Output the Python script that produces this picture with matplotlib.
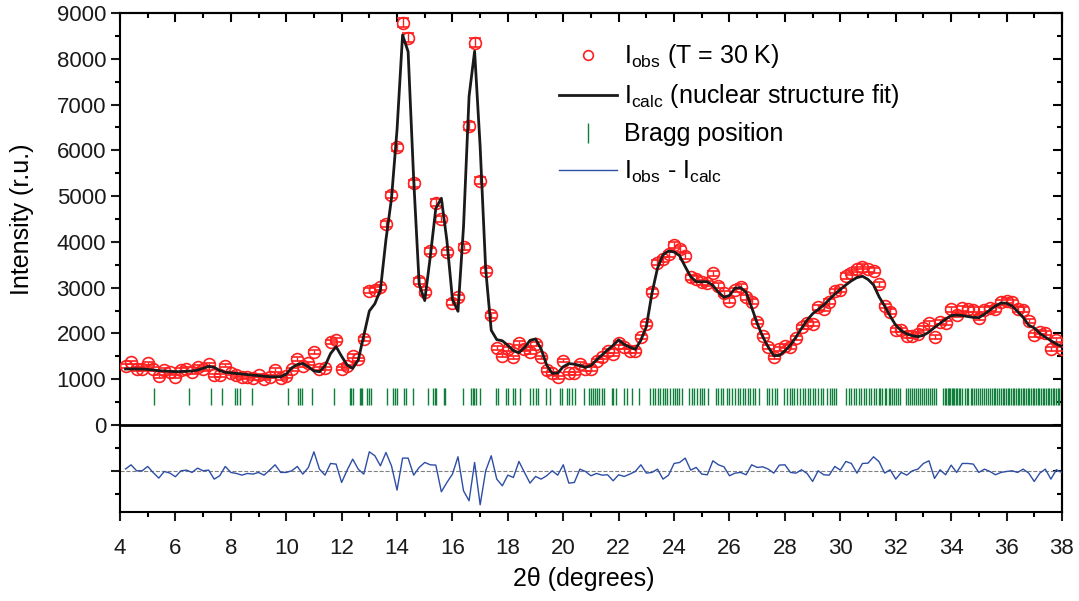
#### Rietveld-type neutron powder pattern: observed, calculated, Bragg ticks, difference
import numpy as np
import matplotlib
matplotlib.use('Agg')
import matplotlib.pyplot as plt
from matplotlib.ticker import MultipleLocator, FuncFormatter, NullFormatter
from matplotlib.lines import Line2D

plt.rcParams['font.family'] = 'Liberation Sans'
plt.rcParams['mathtext.fontset'] = 'custom'
plt.rcParams['mathtext.rm'] = 'Liberation Sans'
plt.rcParams['mathtext.default'] = 'regular'

# 2theta grid of the measurement (0.2 deg steps, 4.2 .. 38.0)
two_theta = np.round(np.arange(4.2, 38.01, 0.2), 1)

i_obs = [1290, 1370, 1223, 1223, 1347, 1223, 1070, 1200, 1150, 1055,
         1200, 1223, 1150, 1275, 1223, 1325, 1092, 1092, 1296, 1128,
         1092, 1040, 1055, 1020, 1092, 1005, 1055, 1200, 1020, 1070,
         1215, 1440, 1296, 1347, 1590, 1230, 1235, 1810, 1860, 1230,
         1280, 1507, 1435, 1875, 2935, 2950, 3008, 4390, 5024, 6066,
         8788, 8460, 5280, 3145, 2900, 3808, 4857, 4493, 3772, 2672,
         2790, 3896, 6531, 8352, 5337, 3371, 2395, 1689, 1514, 1653,
         1478, 1784, 1653, 1588, 1769, 1478, 1201, 1128, 1040, 1405,
         1128, 1128, 1332, 1223, 1223, 1405, 1478, 1616, 1543, 1784,
         1697, 1616, 1624, 1915, 2206, 2912, 3546, 3619, 3728, 3932,
         3838, 3692, 3226, 3190, 3117, 3095, 3313, 3044, 2876, 2716,
         2949, 3022, 2790, 2694, 2243, 1951, 1697, 1478, 1660, 1725,
         1697, 1893, 2148, 2220, 2206, 2570, 2540, 2694, 2927, 2949,
         3255, 3327, 3400, 3460, 3400, 3370, 3073, 2600, 2476, 2075,
         2075, 1944, 1944, 1980, 2126, 2220, 1930, 2257, 2235, 2527,
         2403, 2549, 2527, 2520, 2345, 2520, 2549, 2527, 2680, 2716,
         2680, 2527, 2520, 2272, 1966, 2030, 2000, 1660, 1857, 1660]

i_calc = [1223, 1225, 1225, 1223, 1215, 1200, 1187, 1180, 1172, 1165,
          1168, 1175, 1180, 1200, 1238, 1280, 1260, 1190, 1150, 1140,
          1125, 1114, 1100, 1088, 1080, 1065, 1055, 1052, 1055, 1110,
          1250, 1320, 1345, 1270, 1180, 1165, 1290, 1560, 1711, 1500,
          1310, 1238, 1420, 1950, 2490, 2650, 2950, 4050, 4950, 6450,
          8519, 8155, 5375, 3070, 2718, 3677, 4733, 4952, 4027, 2745,
          2484, 4333, 7180, 8165, 6080, 3400, 2070, 1865, 1840, 1740,
          1624, 1580, 1689, 1850, 1880, 1660, 1310, 1128, 1135, 1274,
          1340, 1330, 1300, 1260, 1300, 1420, 1530, 1640, 1740, 1860,
          1760, 1700, 1653, 1850, 2150, 2876, 3422, 3720, 3800, 3780,
          3700, 3460, 3240, 3130, 3130, 3130, 3050, 2900, 2790, 2830,
          2990, 3000, 2900, 2570, 2220, 1930, 1700, 1514, 1520, 1620,
          1747, 1920, 2110, 2290, 2430, 2520, 2620, 2740, 2860, 2960,
          3060, 3150, 3220, 3250, 3180, 3060, 2800, 2600, 2380, 2180,
          2060, 1990, 1950, 1930, 1960, 2030, 2130, 2220, 2310, 2390,
          2400, 2390, 2370, 2350, 2345, 2420, 2512, 2600, 2665, 2660,
          2600, 2480, 2350, 2180, 2120, 2003, 1920, 1842, 1770, 1711]

i_diff = [40, 130, 0, 0, 95, -40, -160, -15, -50, -130,
          0, 15, -36, 58, 0, 15, -182, -109, 95, -36,
          -58, -95, -58, -73, -36, -95, 15, 131, -36, -36,
          0, 95, -73, 73, 415, 36, -95, 160, 146, -255,
          15, 255, 36, -73, 415, 328, 109, 400, 109, -422,
          277, 277, -95, 73, 182, 131, 124, -459, -255, -73,
          306, -437, -655, 182, -743, 0, 328, -182, -328, -95,
          -146, 204, -36, -269, -124, -182, -109, 0, -95, 131,
          -269, -255, 36, -15, -109, -58, -95, -87, -218, -87,
          -124, -73, -15, 131, -51, -36, 36, -182, -95, 160,
          182, 277, 15, 73, -73, -87, 218, 131, 87, -109,
          -51, -36, -87, 131, 73, 87, 36, -51, 124, 131,
          -36, -51, 22, -58, -233, 0, -87, -95, 95, 15,
          204, 160, -51, 160, 167, 306, 197, -51, 22, -182,
          -36, -95, 0, 36, 160, 218, -167, 22, -87, 124,
          -36, 160, 160, 146, -36, 36, -15, -87, -36, -15,
          0, -36, 36, -51, -233, -51, 36, -182, 22, -36]

bragg = [5.22, 6.49, 7.28, 7.67, 8.15, 8.24, 8.33, 8.78, 10.05, 10.42, 10.48, 10.56,
         10.93, 11.72, 12.29, 12.35, 12.41, 12.66, 12.71, 12.75, 12.90, 13.00, 13.05,
         13.63, 13.85, 13.93, 14.01, 14.24, 14.31, 14.59, 15.12, 15.30, 15.36, 15.41,
         15.69, 15.74, 16.37, 16.67, 16.73, 16.78, 16.84, 17.00, 17.57, 17.64, 17.94,
         18.02, 18.18, 18.26, 18.44, 18.80, 18.90, 19.02, 19.10, 19.38, 19.52, 19.88,
         19.95, 20.15, 20.22, 20.31, 20.43, 20.75, 20.94, 20.99, 21.09, 21.15, 21.23,
         21.30, 21.39, 21.47, 21.75, 21.81, 21.91, 22.20, 22.29, 22.47, 22.75, 23.13,
         23.23, 23.31, 23.43, 23.49, 23.59, 23.68, 23.76, 23.86, 23.95, 24.04, 24.12,
         24.19, 24.28, 24.55, 24.64, 24.72, 24.82, 24.92, 25.00, 25.09, 25.24, 25.52,
         25.60, 25.69, 25.78, 25.90, 26.00, 26.08, 26.20, 26.29, 26.39, 26.48, 26.57,
         26.65, 26.75, 26.84, 26.93, 27.05, 27.35, 27.44, 27.53, 27.65, 27.73, 27.97,
         28.07, 28.17, 28.25, 28.33, 28.43, 28.53, 28.65, 28.73, 28.82, 28.91, 29.01,
         29.09, 29.21, 29.30, 29.39, 29.51, 29.61, 29.69, 29.78, 29.85, 30.21, 30.30,
         30.38, 30.48, 30.57, 30.66, 30.74, 30.84, 30.93, 31.02, 31.10, 31.20, 31.29,
         31.38, 31.45, 31.52, 31.60, 31.66, 31.74, 31.80, 31.88, 31.95, 32.02, 32.10,
         32.17, 32.38, 32.45, 32.52, 32.60, 32.66, 32.74, 32.80, 32.88, 32.95, 33.02,
         33.10, 33.16, 33.24, 33.30, 33.38, 33.45, 33.72, 33.77, 33.82, 33.87, 33.92,
         33.97, 34.02, 34.07, 34.12, 34.17, 34.22, 34.27, 34.32, 34.38, 34.50, 34.56,
         34.62, 34.70, 34.76, 34.83, 34.90, 34.97, 35.05, 35.12, 35.20, 35.26, 35.33,
         35.40, 35.47, 35.54, 35.60, 35.67, 35.74, 35.80, 35.86, 35.92, 35.98, 36.04,
         36.10, 36.16, 36.22, 36.28, 36.34, 36.40, 36.46, 36.52, 36.58, 36.64, 36.70,
         36.76, 36.82, 36.88, 36.94, 37.00, 37.06, 37.12, 37.18, 37.24, 37.30, 37.36,
         37.42, 37.48, 37.54, 37.60, 37.66, 37.72, 37.78, 37.84, 37.90, 37.96]

diff_offset = -1000
red = '#ff1f1f'
green = '#0f7f3c'
blue = '#2d4ea5'

fig = plt.figure(figsize=(10.79, 6.01), dpi=100)
ax = fig.add_axes([0.1112, 0.1481, 0.873, 0.8303])

obs = np.array(i_obs, dtype=float)
ax.errorbar(two_theta, obs, yerr=np.sqrt(obs), fmt='o', mfc='none', mec=red,
            ecolor=red, ms=8.5, mew=1.2, elinewidth=1, capsize=4, capthick=1.2, zorder=3)
ax.plot(two_theta, i_calc, color='#1a1a1a', lw=2, zorder=4)
ax.vlines(bragg, 430, 810, color=green, lw=1, zorder=2)
ax.axhline(0, color='black', lw=2, zorder=2)
ax.axhline(diff_offset, color='grey', ls='--', lw=0.8, zorder=1)
ax.plot(two_theta, np.array(i_diff) + diff_offset, color=blue, lw=1, zorder=3)

ax.set_xlim(4, 38)
ax.set_ylim(-1900, 9000)
ax.xaxis.set_major_locator(MultipleLocator(2))
ax.xaxis.set_minor_locator(MultipleLocator(1))
ax.yaxis.set_major_locator(MultipleLocator(1000))
ax.yaxis.set_minor_locator(MultipleLocator(500))
ax.yaxis.set_major_formatter(FuncFormatter(lambda v, p: '' if v < 0 else f'{int(v)}'))
ax.tick_params(which='major', direction='out', length=6.5, width=1.5, labelsize=16, colors='#1a1a1a')
ax.tick_params(which='minor', direction='out', length=3.5, width=1.5)
ax.tick_params(axis='x', which='major', pad=12)
for s in ax.spines.values():
    s.set_linewidth(1.5)

top = ax.secondary_xaxis('top')
top.xaxis.set_major_locator(MultipleLocator(2))
top.xaxis.set_minor_locator(MultipleLocator(1))
top.xaxis.set_major_formatter(NullFormatter())
top.tick_params(which='major', direction='in', length=6.5, width=1.5)
top.tick_params(which='minor', direction='in', length=3.5, width=1.5)
top.spines['top'].set_linewidth(1.5)

right = ax.secondary_yaxis('right')
right.yaxis.set_major_locator(MultipleLocator(1000))
right.yaxis.set_minor_locator(MultipleLocator(500))
right.yaxis.set_major_formatter(NullFormatter())
right.tick_params(which='major', direction='in', length=6.5, width=1.5)
right.tick_params(which='minor', direction='in', length=3.5, width=1.5)
right.spines['right'].set_linewidth(1.5)

ax.set_xlabel('2\u03b8 (degrees)', fontsize=18)
ax.xaxis.set_label_coords(0.4926, -0.110, transform=ax.transAxes)
ax.xaxis.label.set_va('top')
ax.set_ylabel('Intensity (r.u.)', fontsize=18)
# label centred on the intensity (upper) part of the axis
ax.yaxis.set_label_coords(-0.091, 0.587)

handles = [Line2D([], [], marker='o', mfc='none', mec=red, mew=1.2, ms=7, ls='none'),
           Line2D([], [], color='#1a1a1a', lw=2),
           Line2D([], [], marker='|', color=green, ms=14, mew=1, ls='none'),
           Line2D([], [], color=blue, lw=1)]
labels = [r'I$_{obs}$ (T = 30 K)',
          r'I$_{calc}$ (nuclear structure fit)',
          'Bragg position',
          r'I$_{obs}$ - I$_{calc}$']
ax.legend(handles, labels, loc='upper left', bbox_to_anchor=(0.4558, 0.961),
          frameon=False, fontsize=18, handlelength=2.3, handletextpad=0.3,
          labelspacing=0.48, borderaxespad=0)

plt.savefig('out.png', dpi=100)
